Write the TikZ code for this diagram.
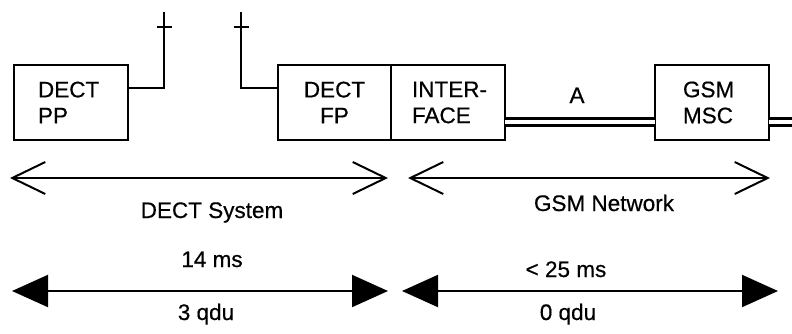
\documentclass[tikz,border=0pt]{standalone}
\usepackage{fontspec}
\setmainfont{Liberation Sans}[FakeBold=0.5]
\usetikzlibrary{arrows.meta}
\begin{document}
\begin{tikzpicture}[x=1pt,y=-1pt,
  every node/.style={font=\fontsize{22.5}{26}\selectfont},
  box/.style={draw, line width=2.2pt, minimum height=75pt, inner ysep=0pt, outer sep=0pt},
  wire/.style={line width=2pt},
  trunk/.style={line width=2.6pt, double, double distance=4.8pt},
  openarrow/.style={line width=2pt, {Straight Barb[length=33pt,width=32pt]}-{Straight Barb[length=33pt,width=32pt]}},
  fullarrow/.style={line width=2pt, {Triangle[length=36pt,width=32pt]}-{Triangle[length=36pt,width=32pt]}},
  lbl/.style={anchor=base, inner sep=0pt}]
\useasboundingbox (0,0) rectangle (792,333);
% boxes
\node[box, text width=66pt, inner xsep=24pt, align=left] (PP) at (71,102.5) {DECT\\PP};
\node[box, text width=65pt, inner xsep=24pt, align=center] (FP) at (334.5,102.5) {DECT\\FP};
\node[box, text width=84pt, inner xsep=15pt, align=left] (IF) at (448,102.5) {\hspace*{6pt}INTER-\\\hspace*{6pt}FACE};
\node[box, text width=58pt, inner xsep=28pt, align=left] (MSC) at (712,102.5) {GSM\\MSC};
% antennas
\coordinate (a1) at (164,12);
\coordinate (a2) at (241,12);
\draw[wire] (PP.east |- 0,88) -| (a1);
\draw[wire] ([xshift=-7.5pt]a1 |- 0,27) -- ([xshift=7.5pt]a1 |- 0,27);
\draw[wire] (FP.west |- 0,88) -| (a2);
\draw[wire] ([xshift=-7.5pt]a2 |- 0,27) -- ([xshift=7.5pt]a2 |- 0,27);
% trunks
\coordinate (edge) at (792,122);
\draw[trunk] (IF.east |- edge) -- (MSC.west |- edge);
\draw[trunk] (MSC.east |- edge) -- (edge);
\node[lbl] (A) at (577,103) {A};
% span arrows
\coordinate (d1) at (10,178);
\coordinate (d2) at (388,178);
\coordinate (g1) at (408,178);
\coordinate (g2) at (770,178);
\draw[openarrow] (d1) -- (d2);
\draw[openarrow] (g1) -- (g2);
\node[lbl] (dsys) at (212,218) {DECT System};
\node[lbl] (gnet) at (604,211) {GSM Network};
% delay arrows
\coordinate (t1) at (12,291);
\coordinate (t2) at (388,291);
\coordinate (u1) at (402,291);
\coordinate (u2) at (778,291);
\draw[fullarrow] (t1) -- (t2);
\draw[fullarrow] (u1) -- (u2);
\node[lbl] (ms14) at (212,267) {14 ms};
\node[lbl] (q3) at (206,320) {3 qdu};
\node[lbl] (ms25) at (566,277) {< 25 ms};
\node[lbl] (q0) at (568,320) {0 qdu};
\end{tikzpicture}
\end{document}
